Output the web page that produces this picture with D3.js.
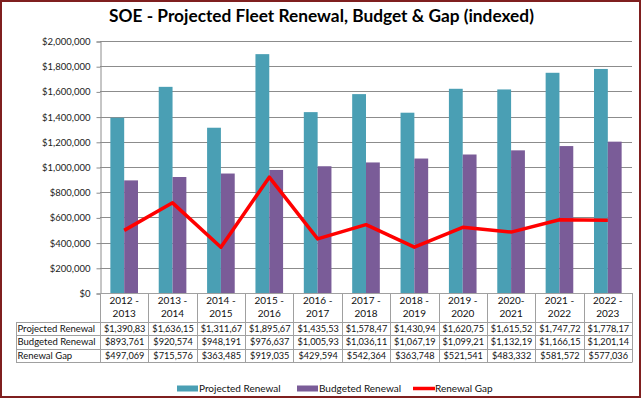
<!DOCTYPE html>
<html><head><meta charset="utf-8">
<script src="https://cdn.jsdelivr.net/npm/d3@7"></script>
<style>
html,body{margin:0;padding:0;background:#fff;}
svg{display:block;}
text{font-family:Lato,"Open Sans",sans-serif;}
</style></head>
<body><svg id="chart" width="642" height="399"></svg>
<script>
const title = "SOE - Projected Fleet Renewal, Budget & Gap (indexed)";
const categories = ["2012 - 2013","2013 - 2014","2014 - 2015","2015 - 2016","2016 - 2017","2017 - 2018","2018 - 2019","2019 - 2020","2020-2021","2021 - 2022","2022 - 2023"];
const seriesNames = ["Projected Renewal","Budgeted Renewal","Renewal Gap"];
const projected = [1390830,1636150,1311676,1895672,1435531,1578477,1430942,1620751,1615522,1747722,1778176];
const budgeted  = [893761,920574,948191,976637,1005937,1036113,1067194,1099210,1132190,1166150,1201140];
const gap       = [497069,715576,363485,919035,429594,542364,363748,521541,483332,581572,577036];
const yTickValues = [0,200000,400000,600000,800000,1000000,1200000,1400000,1600000,1800000,2000000];
const colors = {proj:"#4A9FB4", bud:"#7A5C98", gap:"#FF0000"};

const svg = d3.select("#chart");
svg.append("rect").attr("x",0).attr("y",0).attr("width",642).attr("height",399).attr("fill","#fff");

const L = 100, R = 632, T = 41, B = 293;
const x0 = d3.scaleBand().domain(categories).range([L,R]).padding(0);
const x1 = d3.scaleBand().domain(["proj","bud"]).range([0,x0.bandwidth()]).paddingInner(0).paddingOuter(0.75);
const y = d3.scaleLinear().domain([0,2000000]).range([B,T]);
const fmtAxis = d3.format("$,");

// title
svg.append("text").attr("x",321.5).attr("y",22).attr("text-anchor","middle")
  .attr("font-size",17.3).attr("font-weight","bold").attr("fill","#000").text(title);

// gridlines
svg.append("g").selectAll("line").data(yTickValues.filter(d=>d>0)).join("line")
  .attr("x1",L).attr("x2",R).attr("y1",d=>Math.round(y(d))+0.5).attr("y2",d=>Math.round(y(d))+0.5)
  .attr("stroke","#8C8C8C").attr("stroke-width",1);

// y axis
const yAxis = d3.axisLeft(y).tickValues(yTickValues).tickFormat(fmtAxis).tickSize(4).tickPadding(6);
const gy = svg.append("g").attr("transform",`translate(${L+0.5},0.5)`).call(yAxis);
gy.select(".domain").attr("stroke","#8C8C8C");
gy.selectAll(".tick line").attr("stroke","#8C8C8C");
gy.selectAll(".tick text").attr("font-size",9.5).attr("fill","#222").attr("font-family","Lato,sans-serif");

// bars
const gb = svg.append("g");
categories.forEach((c,i)=>{
  gb.append("rect").attr("x",x0(c)+x1("proj")).attr("y",y(projected[i]))
    .attr("width",x1.bandwidth()).attr("height",B-y(projected[i])).attr("fill",colors.proj);
  gb.append("rect").attr("x",x0(c)+x1("bud")).attr("y",y(budgeted[i]))
    .attr("width",x1.bandwidth()).attr("height",B-y(budgeted[i])).attr("fill",colors.bud);
});

// line
const line = d3.line().x((d,i)=>x0(categories[i])+x0.bandwidth()/2).y(d=>y(d));
svg.append("path").datum(gap).attr("d",line).attr("fill","none")
  .attr("stroke",colors.gap).attr("stroke-width",3.5).attr("stroke-linejoin","round");

// data table
const tableLeft = 16, headerTop = B, headerBottom = 322, rowH = 13.33;
const rows = [projected,budgeted,gap];
const tStroke = "#A0A0A0";
const tg = svg.append("g");
const tableBottom = headerBottom + rowH*3;
tg.append("line").attr("x1",L).attr("x2",R).attr("y1",headerTop+0.5).attr("y2",headerTop+0.5).attr("stroke",tStroke);
for(let r=0;r<=3;r++){
  const yy = Math.round(headerBottom + r*rowH)+0.5;
  tg.append("line").attr("x1",tableLeft).attr("x2",R).attr("y1",yy).attr("y2",yy).attr("stroke",tStroke);
}
tg.append("line").attr("x1",tableLeft+0.5).attr("x2",tableLeft+0.5).attr("y1",headerBottom).attr("y2",tableBottom+0.5).attr("stroke",tStroke);
const colEdges = categories.map(c=>x0(c)).concat([R]);
colEdges.forEach(xx=>{
  tg.append("line").attr("x1",Math.round(xx)+0.5).attr("x2",Math.round(xx)+0.5)
    .attr("y1",headerTop).attr("y2",tableBottom+0.5).attr("stroke",tStroke);
});
categories.forEach(c=>{
  const m = c.match(/^(\d{4}\s?-)\s?(\d{4})$/);
  const cx = x0(c)+x0.bandwidth()/2;
  tg.append("text").attr("x",cx).attr("y",304).attr("text-anchor","middle").attr("font-size",10).attr("fill","#111").text(m[1]);
  tg.append("text").attr("x",cx).attr("y",317).attr("text-anchor","middle").attr("font-size",10).attr("fill","#111").text(m[2]);
});
rows.forEach((vals,r)=>{
  const ty = headerBottom + r*rowH + rowH/2 + 3.5;
  tg.append("text").attr("x",tableLeft+1.5).attr("y",ty).attr("font-size",9.5).attr("fill","#111").text(seriesNames[r]);
  vals.forEach((v,i)=>{
    tg.append("text").attr("x",x0(categories[i])+x0.bandwidth()/2+0.5).attr("y",ty)
      .attr("text-anchor","middle").attr("font-size",9.2).attr("fill","#111")
      .text(fmtAxis(v).slice(0,9));
  });
});

// legend
const lg = svg.append("g");
const ly = 388.5;
const legendItems = [
  {name:seriesNames[0], type:"rect", color:colors.proj, x:177},
  {name:seriesNames[1], type:"rect", color:colors.bud, x:297},
  {name:seriesNames[2], type:"line", color:colors.gap, x:413}
];
legendItems.forEach(it=>{
  if(it.type==="rect"){
    lg.append("rect").attr("x",it.x).attr("y",ly-3).attr("width",21).attr("height",6).attr("fill",it.color);
  } else {
    lg.append("line").attr("x1",it.x).attr("x2",it.x+22).attr("y1",ly).attr("y2",ly).attr("stroke",it.color).attr("stroke-width",3.5);
  }
  lg.append("text").attr("x",it.x+22).attr("y",ly+3.4).attr("font-size",10).attr("fill","#111").text(it.name);
});

// outer border
svg.append("rect").attr("x",1).attr("y",1).attr("width",639).attr("height",396)
  .attr("fill","none").attr("stroke","#7F1F1F").attr("stroke-width",2);
</script>
</body></html>
